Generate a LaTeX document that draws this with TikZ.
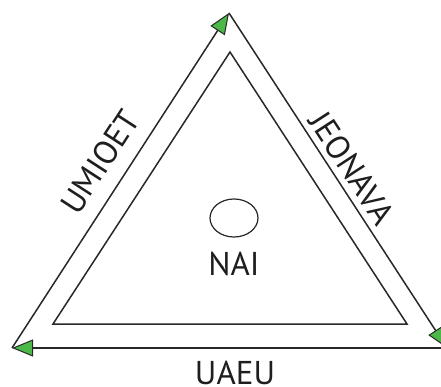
\documentclass[tikz,border=0pt]{standalone}
\usepackage{fontspec}
\setmainfont{PT Sans}
\usepackage{tikz}
\usetikzlibrary{positioning,arrows.meta,shapes.geometric}
\definecolor{trline}{RGB}{40,40,40}
\definecolor{trgreen}{RGB}{76,184,72}
\definecolor{trtext}{RGB}{30,30,30}
\tikzset{
  edge/.style={line width=1.5pt, color=trline},
  flow/.style={edge, -{Triangle[length=21pt, width=17pt, fill=trgreen, line width=1pt]}},
  lbl/.style={font=\fontsize{33}{35}\selectfont, color=trtext, inner sep=0pt},
}

\begin{document}
\begin{tikzpicture}[x=1pt, y=-1pt]
\useasboundingbox (0,0) rectangle (441,387);
% outer triangle
\coordinate (top) at (229,13);
\coordinate (bl) at (12,348);
\coordinate (br) at (447,348);
% inner triangle
\coordinate (itop) at (230,52);
\coordinate (ibl) at (53,324);
\coordinate (ibr) at (407,324);
\draw[edge] (itop) -- (ibr) -- (ibl) -- cycle;
\draw[flow] (bl) -- (top);
\draw[flow] (top) -- (br);
\draw[flow] (br) -- (bl);
\node[draw=trline, line width=1.2pt, ellipse, minimum width=48pt, minimum height=38pt, inner sep=0pt] (eye) at (234,218) {};
\node[lbl] (nai) at (234,264) {NAI};
\node[lbl, rotate=57] (umioet) at (100,162) {UMIOET};
\node[lbl, rotate=-57] (jeonava) at (352,168) {JEONAVA};
\node[lbl] (uaeu) at (235,373) {UAEU};
\end{tikzpicture}
\end{document}
